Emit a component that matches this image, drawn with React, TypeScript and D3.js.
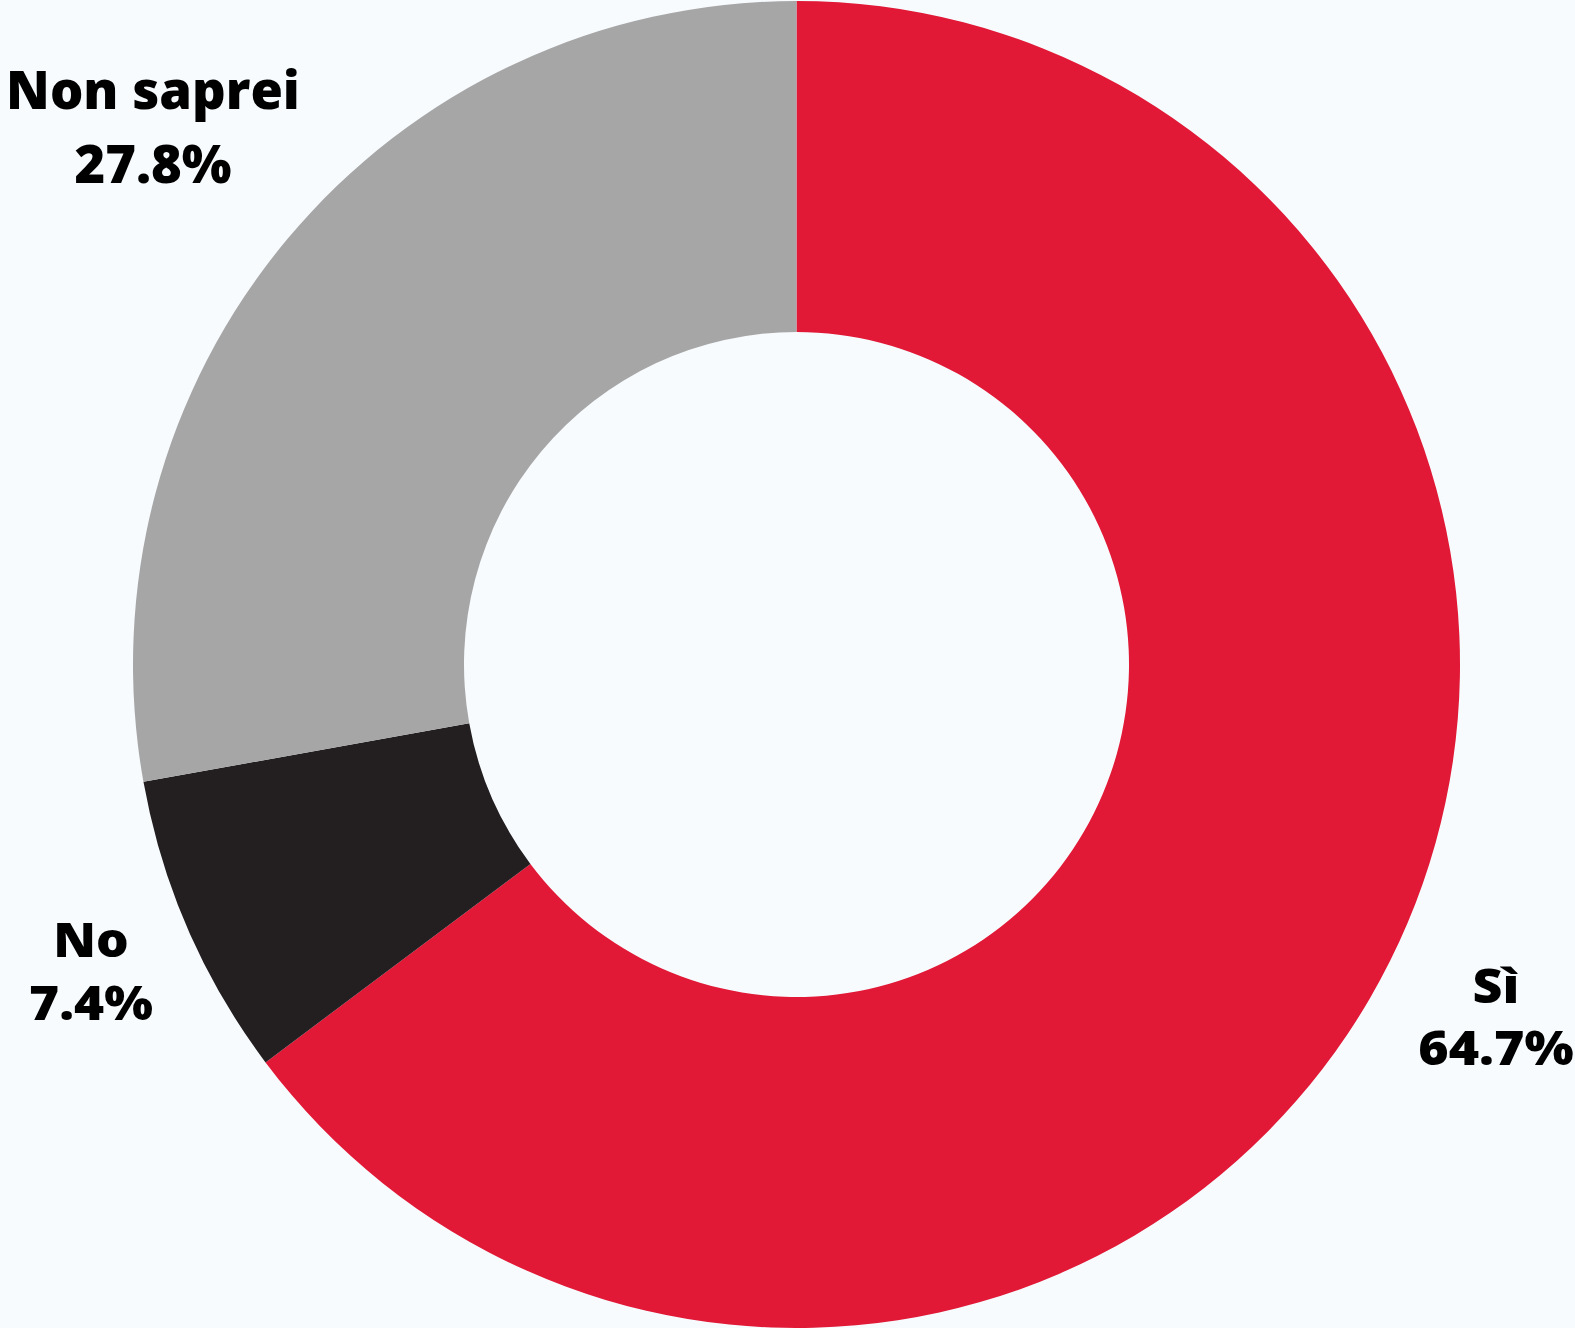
import React from "react";
import * as d3 from "d3";

const categories = ["Sì", "No", "Non saprei"];
const values = [64.7, 7.4, 27.8];
const colors = ["#E11836", "#231F20", "#A6A6A6"];
const labelText = ["64.7%", "7.4%", "27.8%"];

const W = 1575;
const H = 1328;
const cx = 796.5;
const cy = 664.5;
const outerR = 663.5;
const innerR = 332.5;

// label positions (center x, first baseline y, font size, line gap, horizontal stretch)
const labelLayout = [
  { x: 1496, y: 1003, size: 48.5, gap: 62, sx: 1.07 },
  { x: 91, y: 957, size: 48.5, gap: 63, sx: 1.06 },
  { x: 153, y: 108.5, size: 52.5, gap: 74.5, sx: 1 },
];

export default function App() {
  const pie = d3
    .pie<number>()
    .sort(null)
    .value((d) => d)
    .startAngle(0)
    .endAngle(2 * Math.PI * (values.reduce((a, b) => a + b, 0) / 99.9));
  const arcs = pie(values);
  const arc = d3.arc<d3.PieArcDatum<number>>().innerRadius(innerR).outerRadius(outerR);

  return (
    <div style={{ position: "fixed", left: 0, top: 0, width: W, height: H }}>
      <svg width={W} height={H} style={{ display: "block" }}>
        <rect x={0} y={0} width={W} height={H} fill="#F7FBFE" />
        <g transform={`translate(${cx},${cy})`}>
          {arcs.map((a, i) => (
            <path key={categories[i]} d={arc(a) || ""} fill={colors[i]} />
          ))}
        </g>
        {categories.map((c, i) => {
          const l = labelLayout[i];
          return (
            <g key={c} transform={`translate(${l.x},0) scale(${l.sx},1)`}>
              <text
                textAnchor="middle"
                fontFamily="'Open Sans', sans-serif"
                fontWeight={800}
                fontSize={l.size}
                fill="#000"
              >
                <tspan x={0} y={l.y}>{c}</tspan>
                <tspan x={0} y={l.y + l.gap}>{labelText[i]}</tspan>
              </text>
            </g>
          );
        })}
      </svg>
    </div>
  );
}
